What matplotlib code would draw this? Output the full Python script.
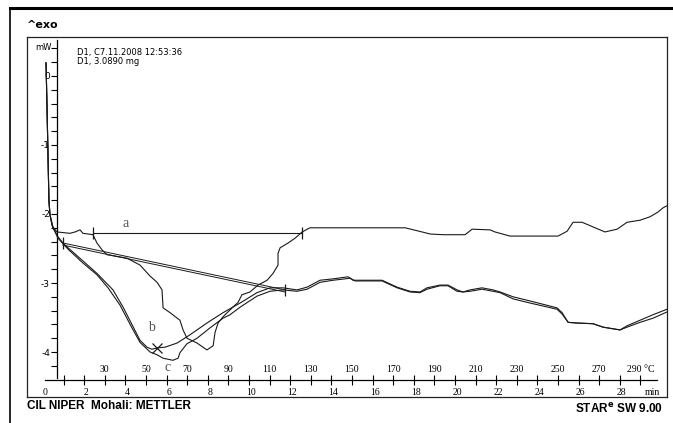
import matplotlib
matplotlib.use("Agg")
import matplotlib.pyplot as plt
from matplotlib.lines import Line2D

plt.rcParams['axes.unicode_minus'] = False

# time (min) and heat flow (mW)
t_spike = [0.05, 0.10, 0.15, 0.19, 0.24]
mw_spike = [0.19, -0.49, -1.22, -1.80, -2.01]

t_a = [0.34, 0.58, 1.21, 1.46, 1.70, 1.84, 2.09, 2.33, 2.52, 2.77, 3.01, 3.98, 4.61, 5.10, 5.44,
       5.68, 5.73, 6.07, 6.55, 6.70, 6.89, 7.38, 7.86, 8.16, 8.25, 8.40, 8.64, 8.98, 9.37, 9.56,
       9.95, 10.34, 10.78, 11.07, 11.31, 11.31, 11.41, 11.80, 12.14, 12.48, 12.86, 13.69, 17.48,
       18.30, 18.69, 19.32, 20.39, 20.73, 21.60, 21.84, 22.57, 24.90, 25.34, 25.63, 26.07, 26.70,
       27.18, 27.77, 28.25, 28.88, 29.37, 29.76, 30.00, 30.19]
mw_a = [-2.17, -2.26, -2.28, -2.26, -2.23, -2.28, -2.29, -2.30, -2.42, -2.52, -2.59, -2.64, -2.74,
        -2.90, -2.99, -3.10, -3.36, -3.43, -3.54, -3.68, -3.80, -3.87, -3.97, -3.91, -3.72, -3.58,
        -3.49, -3.39, -3.28, -3.17, -3.13, -3.03, -2.96, -2.86, -2.74, -2.57, -2.49, -2.42, -2.35,
        -2.26, -2.20, -2.20, -2.20, -2.26, -2.29, -2.30, -2.30, -2.22, -2.23, -2.26, -2.32, -2.32,
        -2.25, -2.12, -2.12, -2.20, -2.26, -2.22, -2.12, -2.09, -2.04, -1.97, -1.91, -1.88]

t_b = [0.39, 0.63, 0.87, 1.12, 1.84, 2.52, 3.30, 3.79, 4.61, 4.95, 5.19, 5.44, 5.83, 6.41, 7.04,
       7.86, 8.64, 9.47, 10.29, 10.92, 11.55, 12.23, 12.72, 13.35, 13.98, 14.71, 14.95, 16.36,
       17.09, 17.72, 18.20, 18.54, 19.17, 19.56, 20.00, 20.29, 20.63, 21.21, 21.75, 22.09, 22.72,
       23.54, 24.85, 25.10, 25.39, 25.83, 26.60, 27.09, 27.91, 28.25, 28.88, 29.51, 30.19]
mw_b = [-2.20, -2.33, -2.42, -2.49, -2.68, -2.86, -3.10, -3.35, -3.83, -3.93, -3.96, -3.94, -3.93,
        -3.87, -3.75, -3.58, -3.43, -3.29, -3.14, -3.07, -3.07, -3.10, -3.06, -2.96, -2.94, -2.91,
        -2.96, -2.96, -3.06, -3.12, -3.13, -3.07, -3.03, -3.03, -3.10, -3.13, -3.10, -3.07, -3.10,
        -3.13, -3.20, -3.26, -3.36, -3.43, -3.57, -3.58, -3.59, -3.64, -3.68, -3.64, -3.57, -3.51,
        -3.42]

t_c = [0.39, 0.63, 0.87, 1.12, 1.84, 2.52, 3.06, 3.64, 4.22, 4.61, 5.10, 5.44, 5.73, 6.21, 6.46,
       6.55, 6.89, 7.38, 8.01, 8.64, 8.98, 9.47, 10.29, 10.92, 11.55, 12.23, 12.72, 13.35, 13.98,
       14.56, 14.81, 15.05, 16.36, 17.09, 17.72, 18.20, 18.54, 19.17, 19.56, 20.00, 20.29, 20.63,
       21.21, 21.75, 22.09, 22.72, 23.54, 24.85, 25.10, 25.39, 25.83, 26.60, 27.09, 27.91, 28.25,
       28.88, 29.51, 30.19]
mw_c = [-2.20, -2.35, -2.43, -2.51, -2.71, -2.88, -3.07, -3.32, -3.65, -3.86, -4.00, -4.04, -4.09,
        -4.12, -4.09, -4.01, -3.88, -3.80, -3.65, -3.51, -3.46, -3.35, -3.19, -3.12, -3.10, -3.12,
        -3.09, -2.99, -2.96, -2.94, -2.93, -2.97, -2.97, -3.07, -3.13, -3.14, -3.09, -3.04, -3.04,
        -3.12, -3.13, -3.12, -3.09, -3.12, -3.14, -3.23, -3.29, -3.38, -3.45, -3.57, -3.58, -3.59,
        -3.64, -3.68, -3.62, -3.54, -3.46, -3.38]

# integration baselines
base_a_t = [2.33, 12.48]
base_a_mw = [-2.28, -2.28]
base_b_t = [0.87, 11.65]
base_b1_mw = [-2.42, -3.10]
base_b2_mw = [-2.45, -3.13]

labels_txt = ['a', 'b', 'c']
labels_t = [3.93, 5.19, 5.97]
labels_mw = [-2.14, -3.65, -4.22]
peak_t, peak_mw = 5.44, -3.94

y_major = [-4, -3, -2, -1, 0]
y_minor = [-4.2 + 0.2 * i for i in range(24)]
temp_ticks = list(range(10, 300, 10))
temp_labels = list(range(30, 300, 20))
time_ticks = list(range(0, 30, 2))

ink = '#1a1a1a'

fig = plt.figure(figsize=(6.73, 4.23), dpi=100)
ax = fig.add_axes([27 / 673, 1 - 397 / 423, 640 / 673, 360 / 423])
ax.set_xlim(-0.874, 30.19)
ax.set_ylim(-4.652, 0.565)
for sp in ax.spines.values():
    sp.set_linewidth(0.9)
    sp.set_color('#222222')
ax.set_yticks([])

for t, m in [(t_a, mw_a), (t_b, mw_b), (t_c, mw_c)]:
    ax.plot(t_spike + t, mw_spike + m, color=ink, lw=0.8)

ax.plot(base_a_t, base_a_mw, color=ink, lw=0.8)
ax.plot(base_b_t, base_b1_mw, color=ink, lw=0.7)
ax.plot(base_b_t, base_b2_mw, color=ink, lw=0.7)
ax.plot(base_a_t, base_a_mw, ls='none', marker='|', ms=9, mew=0.9, color=ink)
ax.plot(base_b_t, base_b1_mw, ls='none', marker='|', ms=9, mew=0.9, color=ink)
ax.plot([peak_t], [peak_mw], ls='none', marker='x', ms=7, mew=0.9, color=ink)

for s, tt, mm in zip(labels_txt, labels_t, labels_mw):
    ax.text(tt, mm, s, family='Liberation Serif', fontsize=10, color='#555555',
            ha='center', va='center')

# heat flow axis
sy = ax.secondary_yaxis(0.58, transform=ax.transData)
sy.set_alignment('left')
sy.set_yticks(y_major, [str(v) for v in y_major])
sy.set_yticks(y_minor, minor=True)
sy.tick_params(which='both', direction='out', length=4, width=0.8, pad=1, labelsize=6.5)
sy.spines['left'].set_bounds(-4.38, 0.52)
sy.spines['left'].set_linewidth(0.9)

# temperature axis
sx = ax.secondary_xaxis(-4.41, transform=ax.transData,
                        functions=(lambda t: 10 * t + 1, lambda T: (T - 1) / 10))
sx.set_alignment('top')
sx.set_xticks(temp_ticks, [''] * len(temp_ticks), minor=True)
sx.set_xticks(temp_labels, [str(v) for v in temp_labels[:-1]] + ['%d °C' % temp_labels[-1]])
sx.tick_params(which='both', direction='inout', length=7, width=0.8, pad=1, labelsize=7,
               labelfontfamily='Liberation Serif')
sx.spines['top'].set_bounds(1, 298)
sx.spines['top'].set_linewidth(0.9)

# time axis labels on the box bottom
ax.set_xticks(time_ticks + [29.5], [str(v) for v in time_ticks] + ['min'])
ax.tick_params(axis='x', length=0, pad=-6.5, labelsize=7, labelfontfamily='Liberation Serif')

fig.text(27 / 673, 1 - 25 / 423, '^exo', fontsize=8, weight='bold', va='center')
fig.text(35 / 673, 1 - 47 / 423, 'mW', fontsize=6, va='center')
fig.text(77 / 673, 1 - 52 / 423, 'D1, C7.11.2008 12:53:36', fontsize=6, va='center')
fig.text(77 / 673, 1 - 62 / 423, 'D1, 3.0890 mg', fontsize=6, va='center')
fig.text(27 / 673, 1 - 406 / 423, 'CIL NIPER  Mohali: METTLER', fontsize=8.5, weight='bold',
         family='Liberation Sans', va='center')
fig.text(663 / 673, 1 - 409 / 423, r'STAR$^\mathbf{e}$ SW 9.00', fontsize=8.5, weight='bold',
         family='Liberation Sans', va='center', ha='right')

fig.add_artist(Line2D([10 / 673, 1], [1 - 8 / 423] * 2, color='black', lw=2.2))
fig.add_artist(Line2D([10 / 673] * 2, [0, 1 - 8 / 423], color='black', lw=1.2))

fig.savefig('out.png', dpi=100)
